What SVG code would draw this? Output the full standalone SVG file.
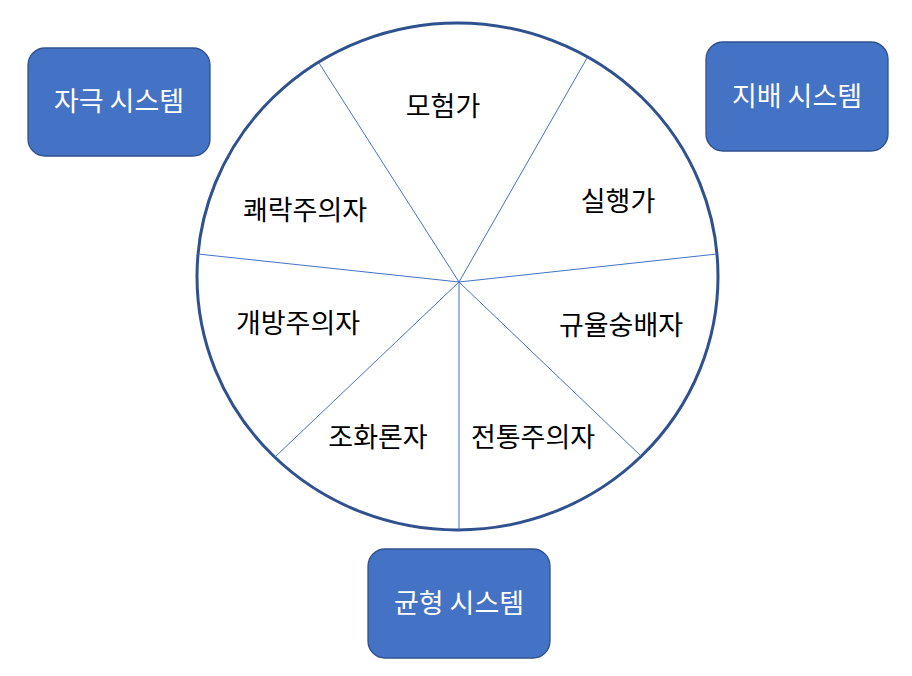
<svg xmlns="http://www.w3.org/2000/svg" width="912" height="676" viewBox="0 0 912 676">
<style>
.box{fill:#4472C4;stroke:#2F528F;stroke-width:1.3}
.bt{fill:#fff;font-family:"Noto Sans CJK KR","Noto Sans",sans-serif;font-size:27px;text-anchor:middle}
.lt{fill:#000;font-family:"Noto Sans CJK KR","Noto Sans",sans-serif;font-size:27px;text-anchor:middle}
.sp{stroke:#4472C4;stroke-width:1;fill:none}
</style>
<rect width="912" height="676" fill="#fff"/>
<g id="wheel">
<ellipse cx="457.5" cy="276.5" rx="260.5" ry="253.5" fill="#fff" stroke="#2F528F" stroke-width="3"/>
</g>
<g id="connectors">
<line class="sp" x1="459" y1="282" x2="319" y2="63"/>
<line class="sp" x1="459" y1="282" x2="587" y2="58"/>
<line class="sp" x1="459" y1="282" x2="198" y2="254"/>
<line class="sp" x1="459" y1="282" x2="717" y2="254"/>
<line class="sp" x1="459" y1="282" x2="275" y2="457"/>
<line class="sp" x1="459" y1="282" x2="459" y2="530"/>
<line class="sp" x1="459" y1="282" x2="641" y2="456"/>
</g>
<g id="labels">
<text class="lt" x="443" y="116">모험가</text>
<text class="lt" x="305" y="220">쾌락주의자</text>
<text class="lt" x="618" y="211">실행가</text>
<text class="lt" x="298" y="333">개방주의자</text>
<text class="lt" x="621" y="335">규율숭배자</text>
<text class="lt" x="378" y="447">조화론자</text>
<text class="lt" x="533" y="447">전통주의자</text>
</g>
<g id="node-stimulus">
<rect class="box" x="28" y="48" width="182" height="108" rx="17"/>
<text class="bt" x="119" y="111">자극 시스템</text>
</g>
<g id="node-dominance">
<rect class="box" x="706" y="42" width="182" height="109" rx="17"/>
<text class="bt" x="797" y="106">지배 시스템</text>
</g>
<g id="node-balance">
<rect class="box" x="368" y="549" width="182" height="109" rx="17"/>
<text class="bt" x="459" y="613">균형 시스템</text>
</g>
</svg>
